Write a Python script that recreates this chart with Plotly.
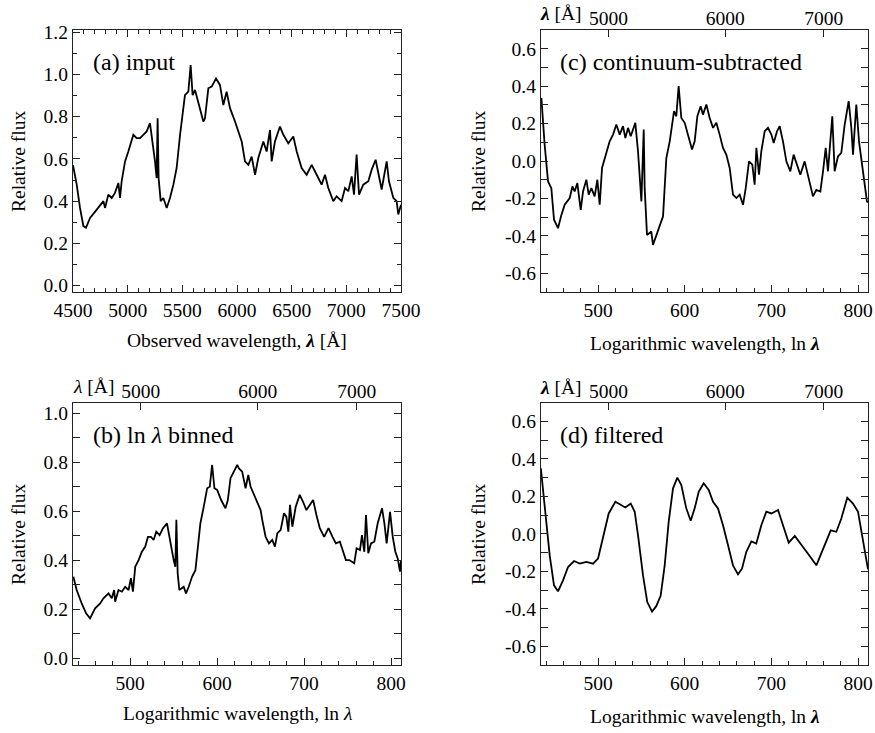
import math
import plotly.graph_objects as go

# ---------------- data ----------------
# (a) input: observed wavelength [A] vs relative flux
lam_a = [4500, 4534, 4564, 4595, 4619, 4656, 4717, 4778, 4793, 4823, 4854, 4884, 4915, 4930,
         4945, 4976, 5006, 5052, 5082, 5113, 5143, 5174, 5204, 5219, 5250, 5265, 5274, 5283,
         5302, 5326, 5357, 5387, 5418, 5448, 5479, 5524, 5555, 5576, 5594, 5616, 5646, 5692,
         5707, 5738, 5768, 5808, 5844, 5875, 5905, 5936, 5982, 6027, 6043, 6073, 6104, 6134,
         6165, 6195, 6241, 6271, 6302, 6317, 6347, 6393, 6424, 6469, 6515, 6546, 6591, 6637,
         6683, 6729, 6774, 6805, 6835, 6881, 6911, 6957, 6988, 7018, 7049, 7070, 7094, 7116,
         7155, 7201, 7232, 7268, 7299, 7323, 7369, 7390, 7430, 7460, 7475, 7500]
flux_a = [0.57, 0.478, 0.368, 0.282, 0.274, 0.321, 0.36, 0.40, 0.368, 0.431, 0.415, 0.439, 0.486, 0.415,
          0.494, 0.588, 0.635, 0.714, 0.698, 0.698, 0.714, 0.73, 0.769, 0.714, 0.588, 0.509, 0.792, 0.509,
          0.40, 0.415, 0.368, 0.415, 0.478, 0.557, 0.714, 0.902, 0.918, 1.044, 0.902, 0.926, 0.871, 0.777,
          0.792, 0.934, 0.942, 0.98, 0.95, 0.855, 0.918, 0.84, 0.777, 0.714, 0.682, 0.588, 0.572, 0.611,
          0.525, 0.604, 0.682, 0.635, 0.737, 0.588, 0.682, 0.753, 0.714, 0.674, 0.706, 0.635, 0.557, 0.525,
          0.572, 0.525, 0.478, 0.525, 0.462, 0.40, 0.423, 0.40, 0.462, 0.447, 0.517, 0.431, 0.62, 0.431,
          0.478, 0.494, 0.549, 0.596, 0.509, 0.455, 0.588, 0.494, 0.415, 0.40, 0.337, 0.383]

# (b) ln-lambda binned: bin index vs relative flux
bin_b = [434.6, 438.4, 444.2, 449.2, 453.8, 459.6, 465.4, 469.2, 475.0, 478.8, 481.5, 482.7, 486.5,
         490.4, 494.2, 498.1, 500.8, 503.1, 505.8, 509.6, 513.4, 517.3, 520.4, 523.8, 526.9, 530.0,
         533.8, 537.7, 542.3, 545.4, 550.0, 551.9, 553.1, 554.6, 556.5, 561.5, 564.2, 567.3, 571.1,
         575.0, 580.7, 584.6, 588.5, 591.5, 594.2, 596.9, 600.0, 604.6, 609.6, 612.3, 615.4, 619.2,
         623.1, 625.0, 628.8, 632.7, 635.8, 638.5, 642.3, 646.2, 650.0, 651.9, 655.7, 659.6, 663.4,
         666.5, 669.2, 673.1, 676.9, 679.6, 681.9, 683.8, 686.5, 690.4, 695.0, 698.8, 702.7, 706.5,
         710.4, 714.2, 718.1, 723.1, 728.1, 732.7, 736.6, 741.2, 744.3, 748.1, 752.0, 757.7, 760.4,
         764.3, 766.6, 769.3, 771.2, 773.9, 777.0, 780.8, 784.7, 789.7, 792.4, 795.0, 798.9, 802.0,
         805.0, 807.7, 810.4, 811.5]
flux_b = [0.333, 0.279, 0.224, 0.184, 0.163, 0.204, 0.224, 0.245, 0.265, 0.245, 0.279, 0.231, 0.279,
          0.272, 0.292, 0.279, 0.327, 0.272, 0.374, 0.401, 0.435, 0.456, 0.496, 0.496, 0.483, 0.517,
          0.503, 0.531, 0.551, 0.483, 0.401, 0.374, 0.565, 0.347, 0.279, 0.292, 0.265, 0.292, 0.333,
          0.36, 0.551, 0.619, 0.694, 0.70, 0.789, 0.694, 0.687, 0.646, 0.612, 0.646, 0.735, 0.762,
          0.789, 0.775, 0.762, 0.694, 0.748, 0.70, 0.667, 0.633, 0.605, 0.565, 0.496, 0.469, 0.483,
          0.456, 0.51, 0.524, 0.592, 0.578, 0.517, 0.626, 0.537, 0.619, 0.667, 0.639, 0.605, 0.626,
          0.646, 0.585, 0.531, 0.496, 0.531, 0.496, 0.469, 0.476, 0.442, 0.401, 0.401, 0.388, 0.449,
          0.442, 0.503, 0.435, 0.585, 0.429, 0.469, 0.476, 0.551, 0.612, 0.551, 0.469, 0.598, 0.496,
          0.435, 0.408, 0.354, 0.40]

# (c) continuum-subtracted
bin_c = [434.6, 438.4, 442.3, 446.1, 449.2, 453.8, 457.7, 461.5, 467.3, 470.4, 473.0, 476.1, 480.0,
         482.7, 486.5, 489.2, 492.3, 496.1, 499.2, 501.9, 504.6, 509.6, 513.4, 517.3, 521.1, 525.0,
         528.8, 531.5, 534.6, 537.7, 543.0, 546.1, 550.0, 552.7, 553.8, 556.5, 561.5, 563.4, 567.3,
         571.1, 575.0, 578.8, 582.7, 587.7, 590.3, 593.0, 596.1, 600.0, 603.8, 608.4, 611.5, 614.6,
         618.4, 621.1, 625.0, 628.8, 632.7, 636.5, 640.3, 644.2, 648.0, 651.9, 655.7, 659.6, 663.4,
         667.3, 670.4, 674.2, 678.0, 680.7, 682.7, 685.7, 688.4, 692.3, 696.1, 700.0, 702.7, 706.5,
         709.6, 713.4, 717.3, 721.9, 725.7, 729.6, 733.4, 738.4, 742.3, 746.1, 748.0, 751.9, 756.5,
         759.6, 762.7, 765.3, 770.3, 773.0, 776.9, 780.7, 784.6, 789.2, 792.3, 794.2, 798.0, 801.1,
         805.0, 807.6, 810.3, 811.5]
flux_c = [0.337, 0.087, -0.109, -0.145, -0.314, -0.359, -0.288, -0.234, -0.198, -0.136, -0.163, -0.118, -0.261,
          -0.163, -0.100, -0.18, -0.145, -0.189, -0.10, -0.234, -0.037, 0.052, 0.105, 0.141, 0.195, 0.141,
          0.186, 0.123, 0.177, 0.132, 0.204, 0.052, -0.216, 0.168, -0.145, -0.395, -0.377, -0.448, -0.395,
          -0.341, -0.296, 0.016, 0.105, 0.266, 0.239, 0.40, 0.23, 0.204, 0.141, 0.061, 0.105, 0.239,
          0.293, 0.248, 0.302, 0.23, 0.177, 0.204, 0.141, 0.070, 0.034, -0.037, -0.18, -0.198, -0.18,
          -0.234, -0.145, -0.002, -0.02, -0.127, 0.070, -0.073, 0.052, 0.159, 0.177, 0.141, 0.096, 0.159,
          0.186, 0.105, -0.002, -0.055, 0.034, -0.02, -0.073, -0.002, -0.073, -0.145, -0.189, -0.154, -0.163,
          -0.055, 0.070, -0.055, 0.239, -0.055, 0.025, 0.043, 0.195, 0.32, 0.177, 0.034, 0.302, 0.105,
          -0.037, -0.109, -0.216, -0.22]

# (d) filtered
bin_d = [434.0, 438.5, 444.2, 449.2, 453.8, 459.6, 465.4, 472.3, 478.9, 486.5, 494.2, 500.0, 505.7,
         512.3, 520.0, 526.0, 531.5, 537.7, 542.3, 546.1, 551.9, 556.8, 562.3, 567.2, 572.3, 576.9,
         581.5, 586.5, 591.5, 596.1, 601.8, 606.9, 611.5, 616.2, 621.9, 627.7, 632.7, 638.4, 644.2,
         650.0, 655.7, 661.5, 666.1, 671.1, 676.9, 682.6, 688.4, 694.2, 700.0, 707.7, 713.4, 720.0,
         727.0, 734.5, 742.3, 751.9, 759.6, 768.5, 775.0, 780.7, 787.6, 794.2, 800.0, 805.7, 811.5]
flux_d = [0.35, 0.136, -0.115, -0.275, -0.307, -0.248, -0.177, -0.145, -0.159, -0.15, -0.159, -0.132, -0.025,
          0.109, 0.171, 0.153, 0.141, 0.162, 0.118, -0.007, -0.222, -0.364, -0.415, -0.386, -0.329, -0.168,
          0.064, 0.243, 0.30, 0.26, 0.136, 0.07, 0.136, 0.225, 0.27, 0.234, 0.171, 0.136, 0.046,
          -0.061, -0.168, -0.216, -0.186, -0.096, -0.04, -0.052, 0.046, 0.118, 0.109, 0.127, 0.046, -0.047,
          -0.011, -0.061, -0.106, -0.168, -0.079, 0.019, 0.011, 0.082, 0.193, 0.162, 0.118, -0.025, -0.19]

# tick labels
ticks_lam_obs = [4500, 5000, 5500, 6000, 6500, 7000, 7500]
ticks_bins = [500, 600, 700, 800]
ticks_top_lam = [5000, 6000, 7000]
yt_ab = [0.0, 0.2, 0.4, 0.6, 0.8, 1.0, 1.2]
yt_cd = [-0.6, -0.4, -0.2, 0.0, 0.2, 0.4, 0.6]

# SNID log-wavelength binning (1024 bins, 2500-10000 A) for the top axes
def lam_to_bin(lam):
    return 1024.0 * math.log(lam / 2500.0) / math.log(4.0)

BIN_RANGE = [lam_to_bin(4500), lam_to_bin(7500)]

# ---------------- figure ----------------
W, H = 875, 733
FONT = "Liberation Serif"
TICKF = dict(family=FONT, size=19.5, color="black")
LC = "#222"

def px(x):
    return x / W

def py(y):
    return 1 - y / H

dom_xl = [px(73), px(401)]
dom_xr = [px(541), px(868)]
dom_yt = [py(292), py(30)]
dom_yb = [py(665), py(402.7)]

fig = go.Figure()
line = dict(color="black", width=1.8)
fig.add_trace(go.Scatter(x=lam_a, y=flux_a, mode="lines", line=line, xaxis="x", yaxis="y"))
fig.add_trace(go.Scatter(x=bin_c, y=flux_c, mode="lines", line=line, xaxis="x2", yaxis="y2"))
fig.add_trace(go.Scatter(x=bin_b, y=flux_b, mode="lines", line=line, xaxis="x3", yaxis="y3"))
fig.add_trace(go.Scatter(x=bin_d, y=flux_d, mode="lines", line=line, xaxis="x4", yaxis="y4"))
# empty traces so the top wavelength axes are drawn
for xa_, ya_ in (("x5", "y3"), ("x6", "y2"), ("x7", "y4")):
    fig.add_trace(go.Scatter(x=[], y=[], mode="lines", xaxis=xa_, yaxis=ya_,
                             hoverinfo="skip", showlegend=False))

def base_axis(**kw):
    d = dict(showline=True, linecolor=LC, linewidth=1.3, ticks="inside", ticklen=7,
             tickwidth=1.2, tickcolor=LC, showgrid=False, zeroline=False, tickfont=TICKF,
             automargin=False)
    d.update(kw)
    return d

def minor(dt):
    return dict(ticks="inside", ticklen=4, tickwidth=1, tickcolor=LC, dtick=dt, showgrid=False)

def fmt(v):
    return "%.1f" % v

xa = base_axis(domain=dom_xl, anchor="y", range=[4500, 7500], tickvals=ticks_lam_obs,
               ticktext=[str(t) for t in ticks_lam_obs], mirror="allticks", minor=minor(100))
xbin = lambda dom, anc: base_axis(domain=dom, anchor=anc, range=BIN_RANGE, tickvals=ticks_bins,
                                  ticktext=[str(t) for t in ticks_bins], mirror=True,
                                  minor=dict(ticks="inside", ticklen=4, tickwidth=1, tickcolor=LC,
                                             tickvals=list(range(440, 812, 20)), showgrid=False))
xtop = lambda over, anc: dict(overlaying=over, anchor=anc, side="top", range=BIN_RANGE,
                              tickvals=[lam_to_bin(l) for l in ticks_top_lam],
                              ticktext=[str(l) for l in ticks_top_lam], ticks="inside",
                              ticklen=7, tickwidth=1.2, tickcolor=LC, showline=False,
                              showgrid=False, zeroline=False, tickfont=TICKF, automargin=False)
ya = lambda dom, anc, rng, tv: base_axis(domain=dom, anchor=anc, range=rng, tickvals=tv,
                                         ticktext=[fmt(v) for v in tv], mirror="allticks",
                                         minor=minor(0.1))

fig.update_layout(
    template="none",
    width=W, height=H, margin=dict(l=0, r=0, t=0, b=0),
    paper_bgcolor="white", plot_bgcolor="white", showlegend=False,
    font=dict(family=FONT, color="black"),
    xaxis=xa,
    yaxis=ya(dom_yt, "x", [-0.03, 1.21], yt_ab),
    xaxis2=xbin(dom_xr, "y2"),
    yaxis2=ya(dom_yt, "x2", [-0.7, 0.7], yt_cd),
    xaxis3=xbin(dom_xl, "y3"),
    yaxis3=ya(dom_yb, "x3", [-0.027, 1.043], yt_ab[:6]),
    xaxis4=xbin(dom_xr, "y4"),
    yaxis4=ya(dom_yb, "x4", [-0.7, 0.7], yt_cd),
    xaxis5=xtop("x3", "y3"),
    xaxis6=xtop("x2", "y2"),
    xaxis7=xtop("x4", "y4"),
)

ann = []
def text(x, y, s, size=19.5, xanchor="center", angle=0):
    ann.append(dict(x=px(x), y=py(y), xref="paper", yref="paper", text=s, showarrow=False,
                    xanchor=xanchor, yanchor="middle", textangle=angle,
                    font=dict(family=FONT, size=size, color="black")))

# panel labels
text(91, 62, "(a) input", size=24, xanchor="left")
text(558, 62, "(c) continuum-subtracted", size=24, xanchor="left")
text(91, 435, "(b) ln <i>λ</i> binned", size=24, xanchor="left")
text(558, 435, "(d) filtered", size=24, xanchor="left")
# x titles
text(237, 340, "Observed wavelength, <b><i>λ</i></b> [Å]")
text(705, 343, "Logarithmic wavelength, ln <b><i>λ</i></b>")
text(237, 713, "Logarithmic wavelength, ln <i>λ</i>")
text(705, 716, "Logarithmic wavelength, ln <b><i>λ</i></b>")
# y titles
text(18, 161, "Relative flux", angle=-90)
text(478, 161, "Relative flux", angle=-90)
text(18, 534, "Relative flux", angle=-90)
text(478, 534, "Relative flux", angle=-90)
# top axis labels
text(561, 14, "<b><i>λ</i></b> [Å]")
text(93, 386, "<i>λ</i> [Å]")
text(561, 387, "<b><i>λ</i></b> [Å]")
fig.update_layout(annotations=ann)

fig.write_html("out.html")
